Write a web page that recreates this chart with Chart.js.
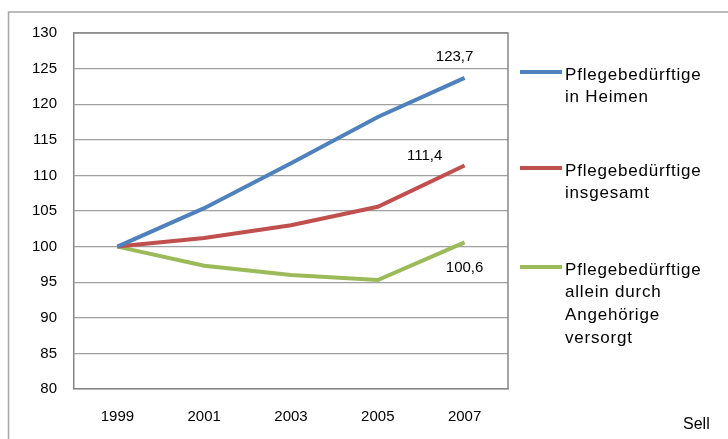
<!DOCTYPE html>
<html>
<head>
<meta charset="utf-8">
<script src="https://cdn.jsdelivr.net/npm/chart.js@4/dist/chart.umd.min.js"></script>
<style>
  html, body { margin: 0; padding: 0; background: #fff; }
  #wrap { width: 728px; height: 439px; }
</style>
</head>
<body>
<div id="wrap"><canvas id="chart" width="728" height="439"></canvas></div>
<script>
'use strict';

// Data (index, 1999 = 100)
var years = ['1999', '2001', '2003', '2005', '2007'];
var heime = [100, 105.4, 111.7, 118.2, 123.7];
var insgesamt = [100, 101.2, 103.0, 105.6, 111.4];
var angehoerige = [100, 97.3, 96.0, 95.3, 100.6];
var seriesNames = [
  ['Pflegebedürftige', 'in Heimen'],
  ['Pflegebedürftige', 'insgesamt'],
  ['Pflegebedürftige', 'allein durch', 'Angehörige', 'versorgt']
];
var endLabels = ['123,7', '111,4', '100,6'];
var source = 'Sell';

var colors = ['#4F81BD', '#C0504D', '#9BBB59'];
var font = '"Liberation Sans", Arial, sans-serif';

// Frame, end value labels, legend and source text
var decorations = {
  id: 'decorations',
  beforeDraw: function(chart){
    var ctx = chart.ctx;
    ctx.save();
    ctx.strokeStyle = '#a6a6a6';
    ctx.lineWidth = 1.5;
    ctx.beginPath();
    ctx.moveTo(8.5, 440);
    ctx.lineTo(8.5, 12);
    ctx.lineTo(728, 12);
    ctx.stroke();
    ctx.restore();
  },
  afterDraw: function(chart){
    var ctx = chart.ctx;
    ctx.save();
    ctx.fillStyle = '#000';
    ctx.font = '15px ' + font;
    ctx.textAlign = 'center';
    ctx.textBaseline = 'middle';
    // value labels near the 2007 points
    var offsets = [[-10, -21], [-40, -10], [0, 26]];
    chart.data.datasets.forEach(function(ds, i){
      var pt = chart.getDatasetMeta(i).data[ds.data.length - 1];
      ctx.fillText(endLabels[i], pt.x + offsets[i][0], pt.y + offsets[i][1]);
    });

    // legend
    var legendY = [72, 168, 267];
    ctx.textAlign = 'left';
    ctx.font = '17px ' + font;
    ctx.letterSpacing = '0.8px';
    seriesNames.forEach(function(lines, i){
      ctx.strokeStyle = colors[i];
      ctx.lineWidth = 4;
      ctx.beginPath();
      ctx.moveTo(520, legendY[i]);
      ctx.lineTo(562, legendY[i]);
      ctx.stroke();
      lines.forEach(function(t, j){
        ctx.fillText(t, 565, legendY[i] + 3 + j * 22.8);
      });
    });

    ctx.letterSpacing = '0px';
    ctx.font = '16px ' + font;
    ctx.fillText(source, 683, 425);
    ctx.restore();
  }
};

function makeSet(label, data, color){
  return {
    label: label,
    data: data,
    borderColor: color,
    backgroundColor: color,
    borderWidth: 4,
    pointRadius: 0,
    tension: 0,
    fill: false
  };
}

var config = {
  type: 'line',
  data: {
    labels: years,
    datasets: [
      makeSet(seriesNames[0].join(' '), heime, colors[0]),
      makeSet(seriesNames[1].join(' '), insgesamt, colors[1]),
      makeSet(seriesNames[2].join(' '), angehoerige, colors[2])
    ]
  },
  options: {
    responsive: false,
    animation: false,
    layout: { padding: { left: 0, top: 33, right: 220, bottom: 0 } },
    plugins: {
      legend: { display: false },
      tooltip: { enabled: false }
    },
    scales: {
      x: {
        offset: true,
        grid: { display: false, drawTicks: false },
        border: { display: true, color: '#868686', width: 1.5 },
        ticks: { color: '#000', padding: 19, font: { family: font, size: 15 } },
        afterFit: function(scale){ scale.height = 50; }
      },
      y: {
        min: 80,
        max: 130,
        grid: { color: '#a0a0a0', lineWidth: 1.3, drawTicks: false },
        border: { display: true, color: '#868686', width: 1.5 },
        ticks: { stepSize: 5, color: '#000', padding: 17, font: { family: font, size: 15 } },
        afterFit: function(scale){ scale.width = 74; }
      }
    }
  },
  plugins: [decorations]
};

// top and right border of plot area
var plotFrame = {
  id: 'plotFrame',
  beforeDatasetsDraw: function(chart){
    var a = chart.chartArea, ctx = chart.ctx;
    ctx.save();
    ctx.strokeStyle = '#868686';
    ctx.lineWidth = 1.5;
    ctx.beginPath();
    ctx.moveTo(a.left, a.top);
    ctx.lineTo(a.right, a.top);
    ctx.lineTo(a.right, a.bottom);
    ctx.stroke();
    ctx.restore();
  }
};
config.plugins.push(plotFrame);

new Chart(document.getElementById('chart').getContext('2d'), config);
</script>
</body>
</html>
